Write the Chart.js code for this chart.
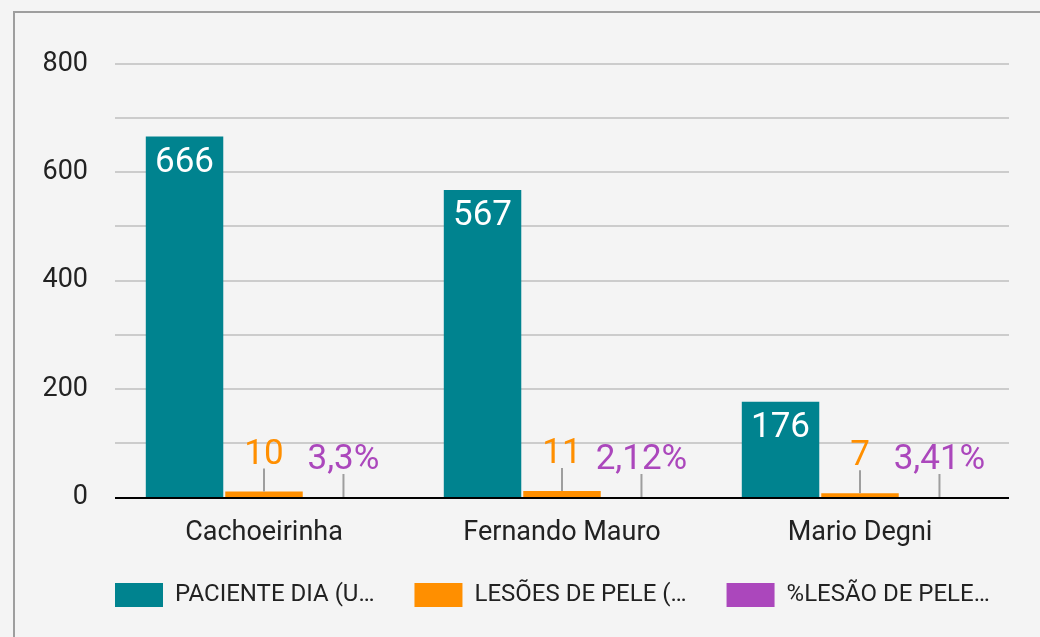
<!DOCTYPE html>
<html><head><meta charset="utf-8">
<script src="https://cdn.jsdelivr.net/npm/chart.js@4.4.0/dist/chart.umd.min.js"></script>
<style>
html,body{margin:0;padding:0;background:#f4f4f4;}
#wrap{position:relative;width:1040px;height:637px;overflow:hidden;background:#f4f4f4;}
#frame{position:absolute;left:13px;top:11px;width:1100px;height:700px;border-top:2px solid #9e9e9e;border-left:2px solid #9e9e9e;}
canvas{position:absolute;left:0;top:0;}
</style></head><body>
<div id="wrap"><div id="frame"></div><canvas id="c" width="1040" height="637"></canvas></div>
<script>
const categories = ['Cachoeirinha', 'Fernando Mauro', 'Mario Degni'];
const seriesNames = ['PACIENTE DIA (U…', 'LESÕES DE PELE (…', '%LESÃO DE PELE…'];
const pacienteDia = [666, 567, 176];
const lesoesPele = [10, 11, 7];
const pctLesao = [3.3, 2.12, 3.41]; // percent
const yTickLabels = [0, 200, 400, 600, 800];

const colors = ['#00838f', '#ff8f00', '#ab47bc'];
const FONT = 'Roboto';

const fmtNum = v => String(v);
const fmtPct = v => v.toLocaleString('pt-BR', {maximumFractionDigits: 2}) + '%';

const labelPlugin = {
  id: 'valueLabels',
  afterLayout(chart) {
    const lg = chart.legend;
    if (lg) {
      const w = lg.right - lg.left;
      lg.left = chart.chartArea.left - 40;
      lg.right = lg.left + w;
      const h = lg.bottom - lg.top;
      lg.top = chart.chartArea.bottom + 46;
      lg.bottom = lg.top + h;
    }
  },
  afterDatasetsDraw(chart) {
    const ctx = chart.ctx;
    const ys = chart.scales.y;
    const area = chart.chartArea;
    ctx.save();
    // zero baseline
    const y0 = ys.getPixelForValue(0);
    ctx.fillStyle = '#000000';
    ctx.fillRect(area.left, Math.round(y0), area.right - area.left, 2);

    ctx.font = '35px ' + FONT;
    ctx.textAlign = 'center';
    ctx.textBaseline = 'alphabetic';
    chart.data.datasets.forEach((ds, di) => {
      const meta = chart.getDatasetMeta(di);
      meta.data.forEach((bar, i) => {
        const txt = ds.valueText[i];
        if (di === 0) {
          ctx.fillStyle = '#ffffff';
          ctx.fillText(txt, bar.x, bar.y + 35);
        } else {
          ctx.strokeStyle = '#9e9e9e';
          ctx.lineWidth = 2;
          ctx.beginPath();
          ctx.moveTo(bar.x, bar.y);
          ctx.lineTo(bar.x, bar.y - 23);
          ctx.stroke();
          ctx.fillStyle = ds.backgroundColor;
          ctx.fillText(txt, bar.x, bar.y - 28);
        }
      });
    });
    ctx.restore();
  }
};

new Chart(document.getElementById('c'), {
  type: 'bar',
  data: {
    labels: categories,
    datasets: [
      {label: seriesNames[0], data: pacienteDia, backgroundColor: colors[0], valueText: pacienteDia.map(fmtNum)},
      {label: seriesNames[1], data: lesoesPele, backgroundColor: colors[1], valueText: lesoesPele.map(fmtNum)},
      {label: seriesNames[2], data: pctLesao.map(v => v / 100), backgroundColor: colors[2], inflateAmount: 0, valueText: pctLesao.map(fmtPct)}
    ]
  },
  options: {
    responsive: false,
    animation: false,
    devicePixelRatio: 1,
    datasets: {bar: {categoryPercentage: 0.8, barPercentage: 0.975, borderWidth: 0}},
    layout: {padding: {left: 43, right: 31, top: 64, bottom: 10}},
    scales: {
      x: {
        grid: {display: false, drawTicks: false},
        border: {display: false},
        ticks: {font: {family: FONT, size: 27}, color: '#222222', padding: 20},
        afterFit(s) { s.height = 56; }
      },
      y: {
        min: 0, max: 800,
        ticks: {
          stepSize: 100,
          font: {family: FONT, size: 27}, color: '#222222', padding: 27,
          callback: v => yTickLabels.includes(v) ? String(v) : ''
        },
        grid: {
          drawTicks: false,
          color: c => (c.tick && c.tick.value === 0) ? 'rgba(0,0,0,0)' : '#cccccc',
          lineWidth: c => (c.tick && c.tick.value === 0) ? 0 : 2
        },
        border: {display: false},
        afterFit(s) { s.width = 72; }
      }
    },
    plugins: {
      legend: {
        position: 'bottom',
        align: 'start',
        labels: {
          boxWidth: 48, boxHeight: 24, padding: 40,
          font: {family: FONT, size: 24}, color: '#222222'
        }
      },
      tooltip: {enabled: false}
    }
  },
  plugins: [labelPlugin]
});
</script>
</body></html>
